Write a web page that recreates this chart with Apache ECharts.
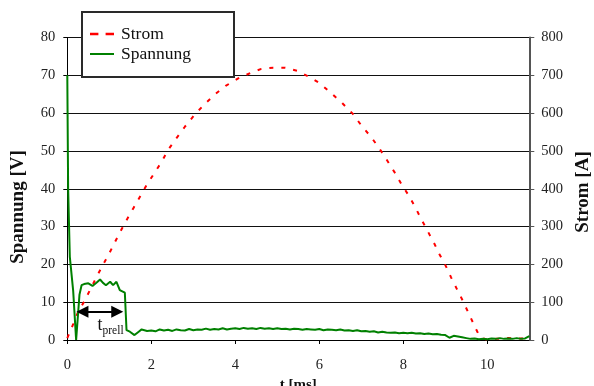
<!DOCTYPE html>
<html>
<head>
<meta charset="utf-8">
<script src="https://cdn.jsdelivr.net/npm/echarts@6/dist/echarts.min.js"></script>
<style>
html,body{margin:0;padding:0;background:#fff;}
#chart{width:594px;height:386px;}
</style>
</head>
<body>
<div id="chart"></div>
<script>
// ---- data ----
var xTickValues = [0, 2, 4, 6, 8, 10];
var leftTicks = [0, 10, 20, 30, 40, 50, 60, 70, 80];
var rightTicks = [0, 100, 200, 300, 400, 500, 600, 700, 800];

// Strom [A] (right axis)
var stromT = [0, 0.14, 0.26, 0.4, 0.54, 0.68, 0.83, 0.98, 1.12, 1.27, 1.41, 1.57, 1.73, 1.89, 2.07, 2.24, 2.4, 2.6, 2.8, 3.04, 3.27, 3.53, 3.77, 4.07, 4.36, 4.62, 4.9, 5.19, 5.47, 5.74, 6.01, 6.27, 6.55, 6.8, 7.01, 7.24, 7.44, 7.62, 7.79, 7.95, 8.13, 8.29, 8.43, 8.58, 8.73, 8.86, 9.01, 9.14, 9.28, 9.42, 9.55, 9.68, 9.81, 9.95, 10.2, 10.5, 10.8, 11.0];
var stromA = [5, 42, 75, 101, 132, 163, 195, 225, 256, 288, 317, 348, 379, 410, 441, 470, 503, 534, 564, 597, 624, 651, 672, 692, 706, 717, 720, 720, 712, 697, 679, 654, 626, 598, 566, 536, 505, 474, 444, 413, 382, 350, 319, 288, 257, 227, 196, 165, 134, 103, 72, 41, 11, 2, 3, 5, 4, 3];

// Spannung [V] (left axis)
var spannT = [0, 0.02, 0.06, 0.14, 0.21, 0.29, 0.34, 0.4, 0.5, 0.6, 0.7, 0.78, 0.85, 0.92, 1.02, 1.09, 1.17, 1.25, 1.37, 1.41, 1.49, 1.6, 1.7, 1.77, 1.9, 2.0, 2.1, 2.2, 2.3, 2.4, 2.5, 2.6, 2.7, 2.8, 2.9, 3.0, 3.1, 3.2, 3.3, 3.4, 3.5, 3.6, 3.7, 3.8, 3.9, 4.0, 4.1, 4.2, 4.3, 4.4, 4.5, 4.6, 4.7, 4.8, 4.9, 5.0, 5.1, 5.2, 5.3, 5.4, 5.5, 5.6, 5.7, 5.8, 5.9, 6.0, 6.1, 6.2, 6.3, 6.4, 6.5, 6.6, 6.7, 6.8, 6.9, 7.0, 7.1, 7.2, 7.3, 7.4, 7.5, 7.6, 7.7, 7.8, 7.9, 8.0, 8.1, 8.2, 8.3, 8.4, 8.5, 8.6, 8.7, 8.8, 8.9, 9.0, 9.1, 9.2, 9.3, 9.4, 9.5, 9.6, 9.7, 9.8, 9.9, 10.0, 10.1, 10.2, 10.3, 10.4, 10.5, 10.6, 10.7, 10.8, 10.9, 11.0];
var spannV = [70, 40, 22, 13, 0, 12, 14.5, 14.8, 15, 14.3, 15.2, 16, 15.1, 14.5, 15.4, 14.5, 15.4, 13.2, 12.5, 2.6, 2.2, 1.3, 2.2, 2.8, 2.4, 2.5, 2.3, 2.8, 2.5, 2.7, 2.4, 2.8, 2.6, 2.5, 2.9, 2.6, 2.8, 2.7, 3.0, 2.7, 2.9, 2.8, 3.1, 2.8, 3.0, 3.1, 2.9, 3.2, 3.0, 3.1, 2.9, 3.2, 3.0, 3.1, 2.9, 3.1, 2.9, 3.0, 2.8, 3.0, 2.9, 2.7, 2.9, 2.8, 2.7, 2.9, 2.6, 2.8, 2.7, 2.6, 2.8, 2.5, 2.6, 2.4, 2.6, 2.3, 2.4, 2.2, 2.3, 2.0, 2.2, 2.0, 1.9, 2.0, 1.8, 1.9, 1.8, 1.9, 1.7, 1.8, 1.6, 1.7, 1.5, 1.6, 1.4, 1.3, 0.6, 1.1, 0.9, 0.7, 0.5, 0.3, 0.4, 0.2, 0.3, 0.2, 0.4, 0.3, 0.5, 0.3, 0.4, 0.3, 0.5, 0.3, 0.4, 1.0];

// t_prell annotation (data coordinates: centres of the arrow heads)
var arrowStart = [0.36, 7.5];
var arrowEnd = [1.19, 7.5];
var prellLabelPos = [1.03, 3.9];

var names = { strom: 'Strom', spann: 'Spannung', left: 'Spannung [V]', right: 'Strom [A]', x: 't [ms]' };

function zip(a, b) { return a.map(function (v, i) { return [v, b[i]]; }); }

var FONT = '"Liberation Serif", "Times New Roman", serif';
var chart = echarts.init(document.getElementById('chart'), null, { renderer: 'canvas' });

var option = {
  animation: false,
  backgroundColor: '#fff',
  textStyle: { fontFamily: FONT },
  grid: { left: 67.3, right: 64.7, top: 37.5, bottom: 46, containLabel: false, outerBoundsMode: 'none' },
  legend: {
    left: 82, top: 12,
    orient: 'vertical',
    backgroundColor: '#fff',
    borderColor: '#2a2a2a',
    borderWidth: 2,
    borderRadius: 0,
    padding: [13, 43, 14, 8],
    itemWidth: 24, itemHeight: 14, itemGap: 2,
    symbolKeepAspect: true,
    textStyle: { fontFamily: FONT, fontSize: 17.5, color: '#111', padding: [0, 0, 0, 2] },
    data: [
      { name: names.strom, icon: 'path://M0,0 L7,0 L7,2 L0,2 Z M13,0 L20,0 L20,2 L13,2 Z', itemStyle: { color: '#ff0000' } },
      { name: names.spann, icon: 'path://M0,0 L24,0 L24,2 L0,2 Z', itemStyle: { color: '#008000' } }
    ],
    z: 10
  },
  xAxis: {
    type: 'value', min: 0, max: 11,
    name: names.x, nameLocation: 'middle', nameGap: 35,
    nameTextStyle: { fontFamily: FONT, fontSize: 15, fontWeight: 'bold', color: '#111' },
    axisLine: { lineStyle: { color: '#000', width: 1 } },
    axisTick: { show: true, length: 4, customValues: xTickValues, lineStyle: { color: '#000' } },
    axisLabel: { customValues: xTickValues, margin: 18, fontFamily: FONT, fontSize: 14.5, color: '#222' },
    splitLine: { show: false }
  },
  yAxis: [
    {
      type: 'value', min: 0, max: 80, interval: 10, position: 'left',
      axisLine: { show: true, lineStyle: { color: '#000', width: 1 } },
      axisTick: { show: true, length: 4, lineStyle: { color: '#000' } },
      axisLabel: { margin: 12, fontFamily: FONT, fontSize: 14.5, color: '#222', formatter: function (v) { return leftTicks.indexOf(v) >= 0 ? String(v) : ''; } },
      splitLine: { show: true, lineStyle: { color: '#111', width: 1 } }
    },
    {
      type: 'value', min: 0, max: 800, interval: 100, position: 'right',
      axisLine: { show: true, lineStyle: { color: '#555', width: 2 } },
      axisTick: { show: true, length: 5, lineStyle: { color: '#555' } },
      axisLabel: { margin: 12, fontFamily: FONT, fontSize: 14.5, color: '#222', formatter: function (v) { return rightTicks.indexOf(v) >= 0 ? String(v) : ''; } },
      splitLine: { show: false }
    }
  ],
  graphic: [
    { type: 'text', x: 18, y: 207, rotation: Math.PI / 2, style: { text: names.left, font: 'bold 19px ' + FONT, fill: '#111', align: 'center', verticalAlign: 'middle' } },
    { type: 'text', x: 583, y: 192, rotation: Math.PI / 2, style: { text: names.right, font: 'bold 19px ' + FONT, fill: '#111', align: 'center', verticalAlign: 'middle' } }
  ],
  series: [
    {
      name: names.strom, type: 'line', yAxisIndex: 1,
      data: zip(stromT, stromA),
      showSymbol: false, symbol: 'none',
      lineStyle: { color: '#ff0000', width: 2, type: [4, 8] },
      itemStyle: { color: '#ff0000' },
      z: 2
    },
    {
      name: names.spann, type: 'line', yAxisIndex: 0,
      data: zip(spannT, spannV),
      showSymbol: false, symbol: 'none',
      lineStyle: { color: '#008000', width: 2 },
      itemStyle: { color: '#008000' },
      z: 3,
      markLine: {
        silent: true, animation: false,
        symbol: ['triangle', 'triangle'], symbolSize: 12,
        label: { show: false },
        lineStyle: { color: '#000', width: 2, type: 'solid' },
        itemStyle: { color: '#000' },
        data: [[{ coord: arrowStart }, { coord: arrowEnd }]]
      },
      markPoint: {
        silent: true, animation: false,
        symbol: 'circle', symbolSize: 0,
        label: {
          show: true, position: 'inside',
          formatter: '{a|t}{b|prell}',
          rich: {
            a: { fontFamily: FONT, fontSize: 18, color: '#111', verticalAlign: 'bottom' },
            b: { fontFamily: FONT, fontSize: 11.5, color: '#111', verticalAlign: 'bottom', padding: [0, 0, -2.5, 0] }
          }
        },
        data: [{ coord: prellLabelPos }]
      }
    }
  ]
};
chart.setOption(option);
</script>
</body>
</html>
